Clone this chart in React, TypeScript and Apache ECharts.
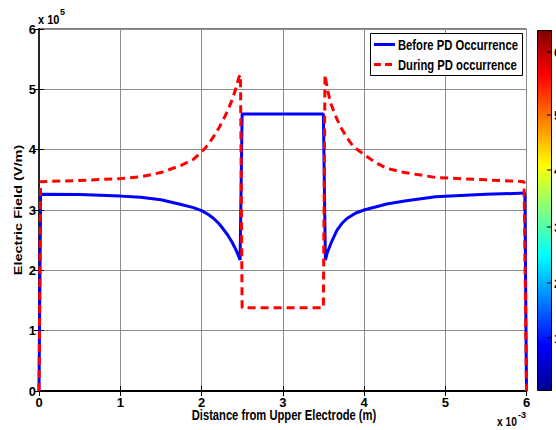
import React, { useEffect, useRef } from "react";
import * as echarts from "echarts";

// Distance (x 10^-3 m) and field (x 10^5 V/m)
const X_BEFORE = [0, 0.02, 0.5, 1.0, 1.25, 1.5, 1.75, 1.9, 2.0, 2.08, 2.15, 2.21, 2.27, 2.32, 2.375, 2.42, 2.45, 2.475, 2.5, 3.5, 3.525, 3.55, 3.6, 3.67, 3.73, 3.79, 3.9, 4.0, 4.28, 4.5, 4.88, 5.5, 5.98, 6.0];
const Y_BEFORE = [0, 3.26, 3.255, 3.23, 3.21, 3.17, 3.09, 3.04, 2.99, 2.93, 2.86, 2.78, 2.68, 2.59, 2.47, 2.35, 2.26, 2.17, 4.59, 4.59, 2.17, 2.3, 2.47, 2.67, 2.78, 2.86, 2.95, 3.0, 3.1, 3.15, 3.22, 3.26, 3.28, 0];

const X_DURING = [0, 0.02, 0.5, 1.0, 1.25, 1.5, 1.75, 1.9, 2.0, 2.08, 2.15, 2.21, 2.27, 2.32, 2.375, 2.42, 2.46, 2.48, 2.5, 3.5, 3.52, 3.55, 3.59, 3.65, 3.71, 3.79, 3.87, 4.0, 4.14, 4.28, 4.5, 4.88, 5.5, 5.97, 6.0];
const Y_DURING = [0, 3.47, 3.49, 3.52, 3.55, 3.62, 3.74, 3.84, 3.96, 4.08, 4.22, 4.35, 4.5, 4.64, 4.82, 5.0, 5.2, 5.24, 1.38, 1.38, 5.24, 5.0, 4.77, 4.56, 4.38, 4.2, 4.05, 3.92, 3.79, 3.69, 3.62, 3.54, 3.5, 3.47, 0];

const AXIS_TICKS = [0, 1, 2, 3, 4, 5, 6];
const COLORBAR_LABELS = ["6", "5", "4", "3", "2", "1"];
const COLORBAR_LABEL_Y = [52, 115, 170, 227, 283, 338];

const SERIES_NAMES = ["Before PD Occurrence", "During PD occurrence"];

const SANS = "'Liberation Sans', Arial, sans-serif";

export default function App() {
  const ref = useRef<HTMLDivElement>(null);
  useEffect(() => {
    if (!ref.current) return;
    const chart = echarts.init(ref.current, undefined, { renderer: "svg" });
    const before = X_BEFORE.map((x, i) => [x, Y_BEFORE[i]]);
    const during = X_DURING.map((x, i) => [x, Y_DURING[i]]);
    const L = 39, R = 526.5, T = 29, B = 391;
    const labelStyle = { color: "#000", fontWeight: "bold" as const, fontSize: 13, fontFamily: SANS };
    chart.setOption({
      animation: false,
      backgroundColor: "#fff",
      grid: { left: L, right: 556 - R, top: T, bottom: 430 - B, show: true, borderColor: "#000", borderWidth: 1, backgroundColor: "#fff" },
      xAxis: [
        {
          type: "value", min: AXIS_TICKS[0], max: AXIS_TICKS[AXIS_TICKS.length - 1], interval: 1,
          axisLine: { show: true, onZero: false, lineStyle: { color: "#000", width: 2 } },
          axisTick: { show: true, inside: true, length: 5, lineStyle: { color: "#000" } },
          axisLabel: { ...labelStyle, margin: 5 },
          splitLine: { show: true, lineStyle: { color: "#8c8c8c", width: 1 } },
        },
        {
          type: "value", position: "top", min: 0, max: 6, interval: 1,
          axisLine: { show: true, lineStyle: { color: "#000", width: 1 } },
          axisTick: { show: true, inside: true, length: 5, lineStyle: { color: "#000" } },
          axisLabel: { show: false }, splitLine: { show: false },
        },
      ],
      yAxis: [
        {
          type: "value", min: 0, max: 6, interval: 1,
          axisLine: { show: true, onZero: false, lineStyle: { color: "#000", width: 2 } },
          axisTick: { show: true, inside: true, length: 5, lineStyle: { color: "#000" } },
          axisLabel: { ...labelStyle, margin: 3 },
          splitLine: { show: true, lineStyle: { color: "#8c8c8c", width: 1 } },
        },
        {
          type: "value", position: "right", min: 0, max: 6, interval: 1,
          axisLine: { show: true, lineStyle: { color: "#333", width: 1.5 } },
          axisTick: { show: true, inside: true, length: 5, lineStyle: { color: "#000" } },
          axisLabel: { show: false }, splitLine: { show: false },
        },
      ],
      series: [
        {
          name: SERIES_NAMES[0], type: "line", data: before, showSymbol: false, symbol: "none",
          lineStyle: { color: "#0000ff", width: 3 }, z: 3,
        },
        {
          name: SERIES_NAMES[1], type: "line", data: during, showSymbol: false, symbol: "none",
          lineStyle: { color: "#ff0000", width: 3, type: [8, 5] }, z: 4,
        },
      ],
      graphic: [
        // multipliers
        { type: "text", x: 38, y: 20, scaleX: 0.85, style: { text: "x 10", font: `bold 13px ${SANS}`, fill: "#000", verticalAlign: "middle" } },
        { type: "text", x: 60, y: 12, style: { text: "5", font: `bold 9px ${SANS}`, fill: "#000", verticalAlign: "middle" } },
        { type: "text", x: 497, y: 422, scaleX: 0.85, style: { text: "x 10", font: `bold 12px ${SANS}`, fill: "#000", verticalAlign: "middle" } },
        { type: "text", x: 518, y: 415, style: { text: "-3", font: `bold 9px ${SANS}`, fill: "#000", verticalAlign: "middle" } },
        // axis titles
        { type: "text", x: 284, y: 415.5, scaleX: 0.8, style: { text: "Distance from Upper Electrode (m)", font: `bold 14px ${SANS}`, fill: "#000", align: "center", verticalAlign: "middle" } },
        { type: "text", x: 18, y: 210, rotation: Math.PI / 2, scaleY: 0.8, style: { text: "Electric Field (V/m)", font: `bold 14.5px ${SANS}`, fill: "#000", align: "center", verticalAlign: "middle" } },
        // legend
        { type: "rect", shape: { x: 370.5, y: 33.5, width: 152, height: 42 }, style: { fill: "#fff", stroke: "#000", lineWidth: 1 }, z: 10 },
        { type: "line", shape: { x1: 374, y1: 44.5, x2: 395, y2: 44.5 }, style: { stroke: "#0000ff", lineWidth: 3 }, z: 11 },
        { type: "line", shape: { x1: 374, y1: 64.5, x2: 396, y2: 64.5 }, style: { stroke: "#ff0000", lineWidth: 3, lineDash: [7, 4] }, z: 11 },
        { type: "text", x: 398, y: 45, scaleX: 0.75, style: { text: SERIES_NAMES[0], font: `bold 15px ${SANS}`, fill: "#000", verticalAlign: "middle" }, z: 11 },
        { type: "text", x: 398, y: 65, scaleX: 0.75, style: { text: SERIES_NAMES[1], font: `bold 15px ${SANS}`, fill: "#000", verticalAlign: "middle" }, z: 11 },
        // colorbar
        {
          type: "rect", shape: { x: 537.5, y: 30.5, width: 14, height: 360 },
          style: {
            fill: new echarts.graphic.LinearGradient(0, 0, 0, 1, [
              { offset: 0, color: "#800000" },
              { offset: 0.125, color: "#ff0000" },
              { offset: 0.375, color: "#ffff00" },
              { offset: 0.625, color: "#00ffff" },
              { offset: 0.875, color: "#0000ff" },
              { offset: 1, color: "#00008f" },
            ]),
            stroke: "#000", lineWidth: 1,
          },
        },
        ...COLORBAR_LABEL_Y.map((y) => ({ type: "line", shape: { x1: 547, y1: y, x2: 551.5, y2: y }, style: { stroke: "#000", lineWidth: 1 } })),
        ...COLORBAR_LABELS.map((t, i) => ({ type: "text", x: 554, y: COLORBAR_LABEL_Y[i], style: { text: t, font: `bold 13px ${SANS}`, fill: "#000", verticalAlign: "middle" } })),
      ],
    });
    return () => chart.dispose();
  }, []);
  return <div ref={ref} style={{ position: "fixed", left: 0, top: 0, width: 556, height: 430, overflow: "hidden" }} />;
}
